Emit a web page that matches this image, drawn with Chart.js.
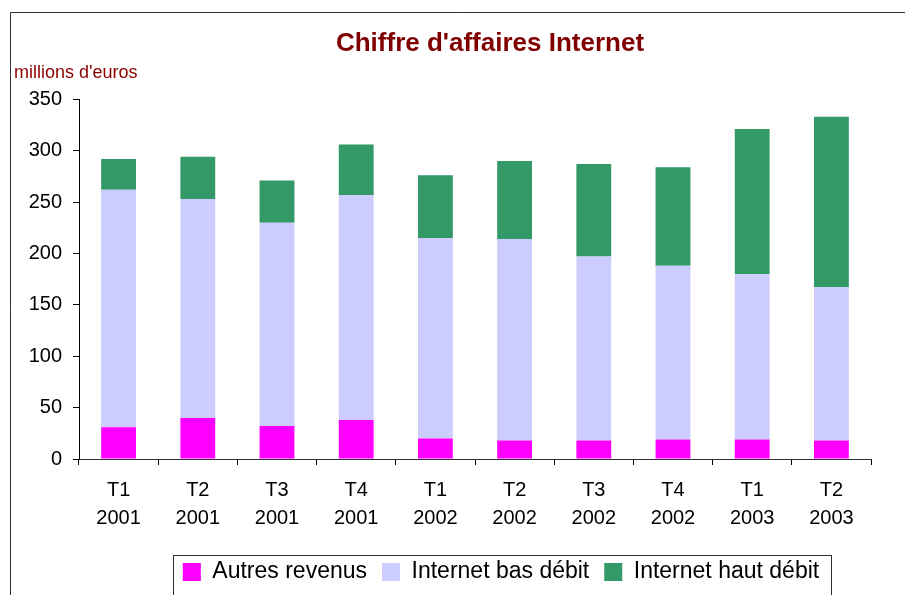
<!DOCTYPE html>
<html><head><meta charset="utf-8">
<script src="https://cdn.jsdelivr.net/npm/chart.js@4/dist/chart.umd.min.js"></script>
<style>html,body{margin:0;padding:0;background:#fff}canvas{display:block}</style>
</head><body>
<canvas id="c" width="905" height="595"></canvas>
<script>
const quarters = ['T1','T2','T3','T4','T1','T2','T3','T4','T1','T2'];
const years = ['2001','2001','2001','2001','2002','2002','2002','2002','2003','2003'];
const autresRevenus = [31, 40, 32, 38, 20, 18, 18, 19, 19, 18];
const internetBasDebit = [231, 213, 198, 219, 195, 196, 179, 169, 161, 149];
const internetHautDebit = [30, 41, 41, 49, 61, 76, 90, 96, 141, 166];
const yMin = 0, yMax = 350, yStep = 50;

const labels = quarters.map((q, i) => [q, years[i]]);
const FONT = "'Liberation Sans', Arial, sans-serif";

const decor = {
  id: 'decor',
  afterLayout(chart) {
    const t = chart.titleBlock;
    if (t) { t.left += 47.5; t.right += 47.5; }
    const l = chart.legend;
    if (l) { l.left += 58.5; l.right += 58.5; }
  },
  beforeDraw(chart) {
    const ctx = chart.ctx;
    ctx.save();
    ctx.fillStyle = '#fff';
    ctx.fillRect(0, 0, chart.width, chart.height);
    ctx.strokeStyle = '#303030';
    ctx.lineWidth = 1;
    ctx.beginPath();
    ctx.moveTo(10.5, 600);
    ctx.lineTo(10.5, 12.5);
    ctx.lineTo(910, 12.5);
    ctx.stroke();
    ctx.restore();
  },
  afterDraw(chart) {
    const hb = chart.legend && chart.legend.legendHitBoxes;
    if (!hb || !hb.length) return;
    const ctx = chart.ctx;
    const left = Math.round(hb[0].left - 10) + 0.5;
    const last = hb[hb.length - 1];
    const right = Math.round(last.left + last.width + 12) + 0.5;
    ctx.save();
    ctx.strokeStyle = '#303030';
    ctx.lineWidth = 1;
    ctx.strokeRect(left, 555.5, right - left, 60);
    ctx.restore();
  }
};

new Chart(document.getElementById('c'), {
  type: 'bar',
  data: {
    labels: labels,
    datasets: [
      { label: 'Autres revenus', data: autresRevenus, backgroundColor: '#FF00FF' },
      { label: 'Internet bas débit', data: internetBasDebit, backgroundColor: '#CCCCFF' },
      { label: 'Internet haut débit', data: internetHautDebit, backgroundColor: '#339966' }
    ]
  },
  options: {
    responsive: false,
    animation: false,
    events: [],
    datasets: { bar: { categoryPercentage: 1, barPercentage: 0.44 } },
    layout: { padding: { left: 14, right: 34, top: 0, bottom: 1.5 } },
    plugins: {
      title: {
        display: true,
        text: "Chiffre d'affaires Internet",
        color: '#800000',
        font: { family: FONT, size: 26, weight: 'bold', lineHeight: 1.2 },
        padding: { top: 28.4, bottom: 0 }
      },
      subtitle: {
        display: true,
        text: "millions d'euros",
        align: 'start',
        color: '#8B0000',
        font: { family: FONT, size: 18, lineHeight: 1.2 },
        padding: { top: 2.6, bottom: 15.5 }
      },
      legend: {
        position: 'bottom',
        labels: {
          color: '#000',
          font: { family: FONT, size: 23 },
          boxWidth: 18,
          boxHeight: 18,
          padding: 15
        }
      },
      tooltip: { enabled: false }
    },
    scales: {
      x: {
        stacked: true,
        offset: true,
        grid: { display: true, drawOnChartArea: false, drawTicks: true, tickLength: 6, color: '#000', offset: true },
        border: { display: true, color: '#303030', width: 1 },
        ticks: { color: '#000', font: { family: FONT, size: 20, lineHeight: 1.4 }, padding: 11, maxRotation: 0, autoSkip: false },
        afterFit(s) { s.height = 86.5; }
      },
      y: {
        stacked: true,
        min: yMin,
        max: yMax,
        grid: { display: true, drawOnChartArea: false, drawTicks: true, tickLength: 6, color: '#000' },
        border: { display: true, color: '#000', width: 1 },
        ticks: { stepSize: yStep, color: '#000', font: { family: FONT, size: 20 }, padding: 11 },
        afterFit(s) { s.width = 65; }
      }
    }
  },
  plugins: [decor]
});
</script>
</body></html>
